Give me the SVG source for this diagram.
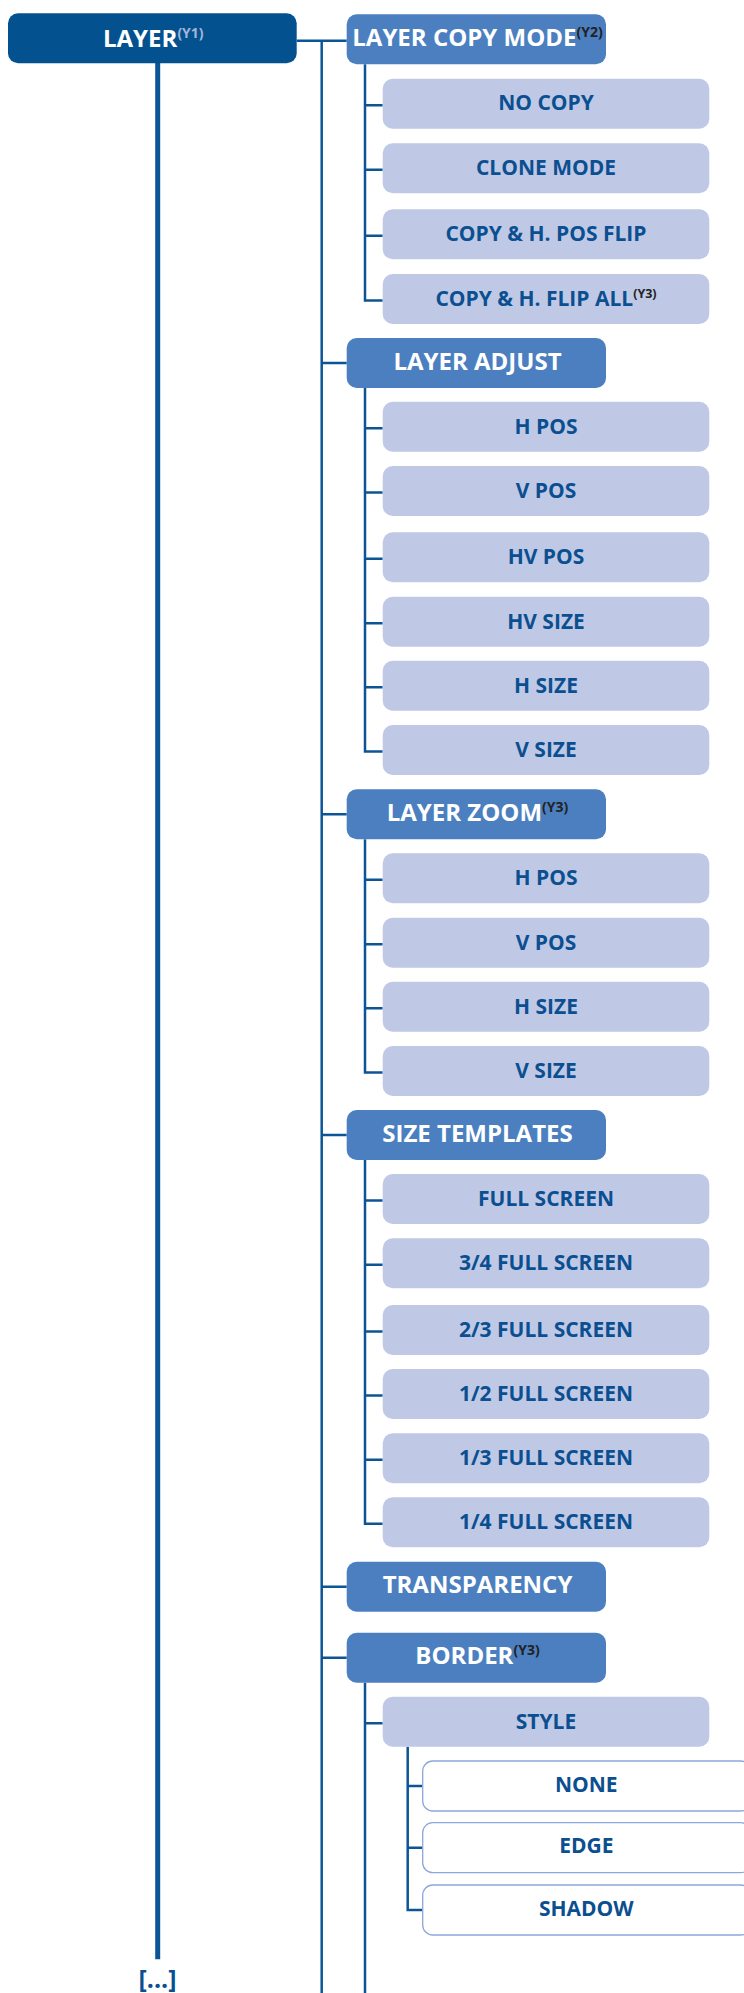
<svg xmlns="http://www.w3.org/2000/svg" width="744" height="1993" viewBox="0 0 744 1993">
<style>
  .l0 { fill: #03528F; }
  .l1 { fill: #4B7FC0; }
  .l2 { fill: #BFC9E6; }
  .l3 { fill: #FFFFFF; stroke: #8EA7DA; stroke-width: 1.3; }
  text { font-family: "Open Sans", "Liberation Sans", sans-serif; font-weight: 700; text-anchor: middle; }
  .tw { fill: #FFFFFF; font-size: 24px; }
  .tb { fill: #0B4F90; font-size: 21px; }
  .s1 { font-size: 14px; fill: #222222; }
  .s0 { font-size: 14px; fill: #A3B6DA; }
  .s2 { font-size: 12.5px; fill: #222222; }
  .conn path { fill: none; stroke: #0B5596; stroke-width: 2.5; }
  .conn path.main { stroke-width: 5; }
</style>

<g class="conn" id="connectors">
  <path class="main" d="M157.7 63 V1959.3"/>
  <path d="M296.7 40.7 H346.7"/>
  <path d="M321.7 40.7 V1993"/>
  <path d="M321.7 363 H346.7 M321.7 814.3 H346.7 M321.7 1135 H346.7 M321.7 1586.7 H346.7 M321.7 1657.7 H346.7"/>
  <path d="M365 64.3 V300.5 H382.7 M365 105.2 H382.7 M365 169.8 H382.7 M365 235.8 H382.7"/>
  <path d="M365 387.5 V751.5 H382.7 M365 428.2 H382.7 M365 492.5 H382.7 M365 558.8 H382.7 M365 623.2 H382.7 M365 687.2 H382.7"/>
  <path d="M365 839.3 V1072.5 H382.7 M365 879.8 H382.7 M365 944.2 H382.7 M365 1008.2 H382.7"/>
  <path d="M365 1160 V1523.8 H382.7 M365 1200.5 H382.7 M365 1264.8 H382.7 M365 1331.5 H382.7 M365 1395.5 H382.7 M365 1459.8 H382.7"/>
  <path d="M365 1682.7 V1993 M365 1723.2 H382.7"/>
  <path d="M407.7 1746.7 V1910 H422.7 M407.7 1786 H422.7 M407.7 1847.7 H422.7"/>
</g>

<g id="n-layer"><rect class="l0" x="8" y="13.3" width="288.7" height="50" rx="10"/><text class="tw" x="153.3" y="46.7">LAYER<tspan class="s0" dy="-9.2">(Y1)</tspan></text></g>
<g id="n-more"><text class="tb" x="157.5" y="1987.5" style="font-size:25px">[...]</text></g>

<g id="n-copy-mode"><rect class="l1" x="346.7" y="14.3" width="259.3" height="50" rx="10"/><text class="tw" x="477.5" y="45.8">LAYER COPY MODE<tspan class="s1" dy="-9.2">(Y2)</tspan></text></g>
<g id="n-no-copy"><rect class="l2" x="382.7" y="78.7" width="326.6" height="50" rx="10"/><text class="tb" x="546" y="110.3">NO COPY</text></g>
<g id="n-clone-mode"><rect class="l2" x="382.7" y="143.3" width="326.6" height="50" rx="10"/><text class="tb" x="546" y="174.9">CLONE MODE</text></g>
<g id="n-copy-hpos-flip"><rect class="l2" x="382.7" y="209.3" width="326.6" height="50" rx="10"/><text class="tb" x="546" y="240.9">COPY &amp; H. POS FLIP</text></g>
<g id="n-copy-hflip-all"><rect class="l2" x="382.7" y="274" width="326.6" height="50" rx="10"/><text class="tb" x="546" y="305.6">COPY &amp; H. FLIP ALL<tspan class="s2" dy="-7.6">(Y3)</tspan></text></g>

<g id="n-layer-adjust"><rect class="l1" x="346.7" y="338" width="259.3" height="50" rx="10"/><text class="tw" x="477.5" y="369.5">LAYER ADJUST</text></g>
<g id="n-adj-hpos"><rect class="l2" x="382.7" y="401.7" width="326.6" height="50" rx="10"/><text class="tb" x="546" y="433.5">H POS</text></g>
<g id="n-adj-vpos"><rect class="l2" x="382.7" y="466" width="326.6" height="50" rx="10"/><text class="tb" x="546" y="497.8">V POS</text></g>
<g id="n-adj-hvpos"><rect class="l2" x="382.7" y="532.3" width="326.6" height="50" rx="10"/><text class="tb" x="546" y="564.1">HV POS</text></g>
<g id="n-adj-hvsize"><rect class="l2" x="382.7" y="596.7" width="326.6" height="50" rx="10"/><text class="tb" x="546" y="628.5">HV SIZE</text></g>
<g id="n-adj-hsize"><rect class="l2" x="382.7" y="660.7" width="326.6" height="50" rx="10"/><text class="tb" x="546" y="692.5">H SIZE</text></g>
<g id="n-adj-vsize"><rect class="l2" x="382.7" y="725" width="326.6" height="50" rx="10"/><text class="tb" x="546" y="756.8">V SIZE</text></g>

<g id="n-layer-zoom"><rect class="l1" x="346.7" y="789.3" width="259.3" height="50" rx="10"/><text class="tw" x="477.5" y="820.8">LAYER ZOOM<tspan class="s1" dy="-9.2">(Y3)</tspan></text></g>
<g id="n-zoom-hpos"><rect class="l2" x="382.7" y="853.3" width="326.6" height="50" rx="10"/><text class="tb" x="546" y="885.1">H POS</text></g>
<g id="n-zoom-vpos"><rect class="l2" x="382.7" y="917.7" width="326.6" height="50" rx="10"/><text class="tb" x="546" y="949.5">V POS</text></g>
<g id="n-zoom-hsize"><rect class="l2" x="382.7" y="981.7" width="326.6" height="50" rx="10"/><text class="tb" x="546" y="1013.5">H SIZE</text></g>
<g id="n-zoom-vsize"><rect class="l2" x="382.7" y="1046" width="326.6" height="50" rx="10"/><text class="tb" x="546" y="1077.8">V SIZE</text></g>

<g id="n-size-templates"><rect class="l1" x="346.7" y="1110" width="259.3" height="50" rx="10"/><text class="tw" x="477.5" y="1141.5">SIZE TEMPLATES</text></g>
<g id="n-full"><rect class="l2" x="382.7" y="1174" width="326.6" height="50" rx="10"/><text class="tb" x="546" y="1205.8">FULL SCREEN</text></g>
<g id="n-3-4"><rect class="l2" x="382.7" y="1238.3" width="326.6" height="50" rx="10"/><text class="tb" x="546" y="1270.1">3/4 FULL SCREEN</text></g>
<g id="n-2-3"><rect class="l2" x="382.7" y="1305" width="326.6" height="50" rx="10"/><text class="tb" x="546" y="1336.8">2/3 FULL SCREEN</text></g>
<g id="n-1-2"><rect class="l2" x="382.7" y="1369" width="326.6" height="50" rx="10"/><text class="tb" x="546" y="1400.8">1/2 FULL SCREEN</text></g>
<g id="n-1-3"><rect class="l2" x="382.7" y="1433.3" width="326.6" height="50" rx="10"/><text class="tb" x="546" y="1465.1">1/3 FULL SCREEN</text></g>
<g id="n-1-4"><rect class="l2" x="382.7" y="1497.3" width="326.6" height="50" rx="10"/><text class="tb" x="546" y="1529.1">1/4 FULL SCREEN</text></g>

<g id="n-transparency"><rect class="l1" x="346.7" y="1561.7" width="259.3" height="50" rx="10"/><text class="tw" x="477.5" y="1593.2">TRANSPARENCY</text></g>

<g id="n-border"><rect class="l1" x="346.7" y="1632.7" width="259.3" height="50" rx="10"/><text class="tw" x="477.5" y="1664.2">BORDER<tspan class="s1" dy="-9.2">(Y3)</tspan></text></g>
<g id="n-style"><rect class="l2" x="382.7" y="1696.7" width="326.6" height="50" rx="10"/><text class="tb" x="546" y="1728.5">STYLE</text></g>
<g id="n-none"><rect class="l3" x="422.7" y="1761" width="328" height="50" rx="10"/><text class="tb" x="586.3" y="1791.7">NONE</text></g>
<g id="n-edge"><rect class="l3" x="422.7" y="1822.7" width="328" height="50" rx="10"/><text class="tb" x="586.3" y="1853.4">EDGE</text></g>
<g id="n-shadow"><rect class="l3" x="422.7" y="1885" width="328" height="50" rx="10"/><text class="tb" x="586.3" y="1915.7">SHADOW</text></g>
</svg>
